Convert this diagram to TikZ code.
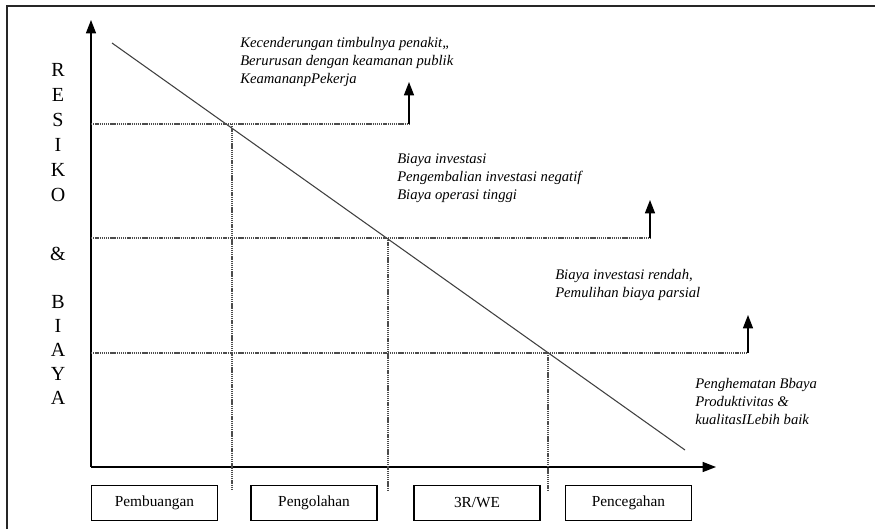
\documentclass[tikz,border=0pt]{standalone}
\usepackage{fontspec}
\setmainfont{Liberation Serif}
\usetikzlibrary{arrows.meta}
\begin{document}
\begin{tikzpicture}[x=0.75pt,y=-0.75pt,
  frame/.style={line width=1.3pt,black!85},
  axis/.style={line width=1pt,-{Triangle[length=10pt,width=7.5pt]}},
  dotline/.style={line width=0.9pt,black!70,dash pattern=on 1pt off 0.6pt},
  riskline/.style={line width=0.8pt,black!75},
  uparrow/.style={line width=1pt,-{Triangle[length=10pt,width=7.5pt]}},
  note/.style={anchor=north west,align=left,inner sep=0pt,
    font=\fontsize{11pt}{13.5pt}\selectfont\itshape},
  letter/.style={inner sep=0pt,font=\fontsize{15pt}{16pt}\selectfont},
  stage/.style={draw,line width=0.8pt,minimum width=94.5pt,minimum height=26pt,
    inner sep=0pt,font=\fontsize{11.5pt}{12pt}\selectfont}]
\useasboundingbox (0,0) rectangle (875,529);
% page frame (only top and left edges fall inside)
\draw[frame] (7,529) -- (7,6) -- (875,6);

% axes
\coordinate (O) at (91,467);
\coordinate (ytop) at (91,20);
\coordinate (xend) at (716,467);
\draw[axis] (O) -- (ytop);
\draw[axis] (O) -- (xend);

% vertical axis caption
\foreach \ch/\yy in {R/70,E/95,S/120,I/145,K/170,O/195,\&/254,B/302,I/326,A/350,Y/374,A/398}
  \node[letter] at (58,\yy) {\ch};

% diagonal risk/cost line and its crossing points
\coordinate (dstart) at (112,43);
\coordinate (dend) at (685,450);
\draw[riskline] (dstart) -- (dend);
\coordinate (p1) at (232,124);
\coordinate (p2) at (388,238);
\coordinate (p3) at (548,353);

% guide lines to the axes
\coordinate (h1) at (91,124);
\coordinate (h2) at (91,238);
\coordinate (h3) at (91,353);
\coordinate (v1) at (232,490);
\coordinate (v2) at (388,490);
\coordinate (v3) at (548,490);
\coordinate (a1) at (409,124);
\coordinate (a2) at (650,238);
\coordinate (a3) at (748,353);
\coordinate (t1) at (409,82);
\coordinate (t2) at (650,200);
\coordinate (t3) at (748,315);
\draw[dotline] (h1) -- (a1);
\draw[dotline] (h2) -- (a2);
\draw[dotline] (h3) -- (a3);
\draw[dotline] (p1) -- (v1);
\draw[dotline] (p2) -- (v2);
\draw[dotline] (p3) -- (v3);
\draw[uparrow] (a1) -- (t1);
\draw[uparrow] (a2) -- (t2);
\draw[uparrow] (a3) -- (t3);

% notes
\node[note] (n1) at (240,37) {Kecenderungan timbulnya penakit,,\\Berurusan dengan keamanan publik\\KeamananpPekerja};
\node[note] (n2) at (397,154) {Biaya investasi\\Pengembalian investasi negatif\\Biaya operasi tinggi};
\node[note] (n3) at (555,269) {Biaya investasi rendah,\\Pemulihan biaya parsial};
\node[note] (n4) at (695,378) {Penghematan Bbaya\\Produktivitas \&\\kualitasILebih baik};

% stages along the horizontal axis
\node[stage] (s1) at (154.5,503) {Pembuangan};
\node[stage] (s2) at (314,503) {Pengolahan};
\node[stage] (s3) at (477,503) {3R/WE};
\node[stage] (s4) at (628.5,503) {Pencegahan};
\end{tikzpicture}
\end{document}
